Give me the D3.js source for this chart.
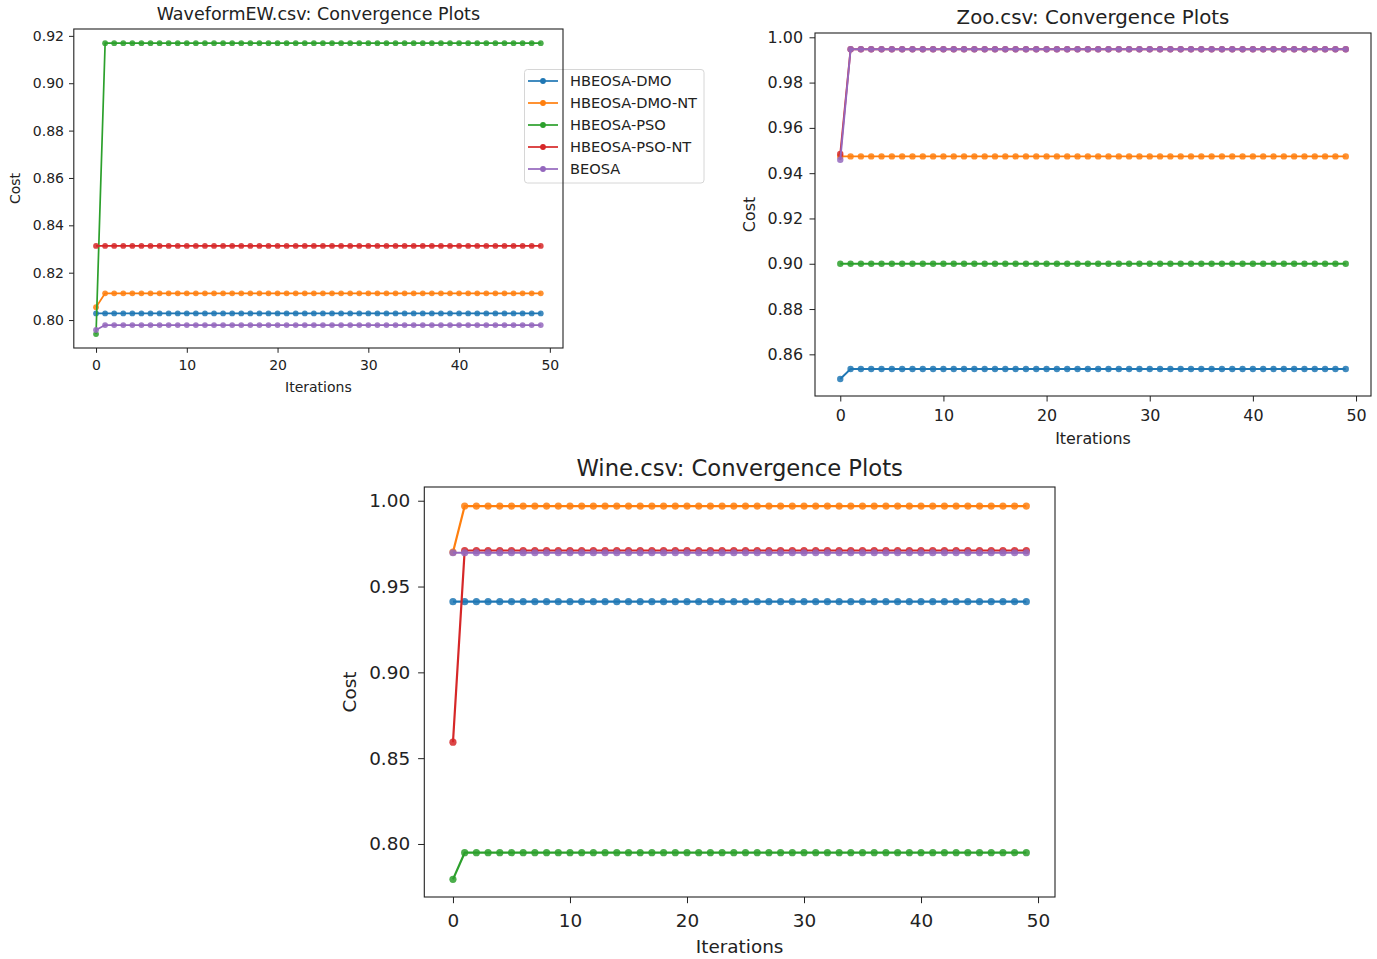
<!DOCTYPE html>
<html>
<head>
<meta charset="utf-8">
<script src="https://cdn.jsdelivr.net/npm/d3@7"></script>
<style>
  html, body { margin: 0; padding: 0; background: #fff; }
  svg { display: block; font-family: "DejaVu Sans", sans-serif; }
</style>
</head>
<body>
<svg id="fig" width="1377" height="959"></svg>
<script>
// ---- data -------------------------------------------------------------
const seriesNames = ["HBEOSA-DMO", "HBEOSA-DMO-NT", "HBEOSA-PSO", "HBEOSA-PSO-NT", "BEOSA"];
const seriesColors = ["#1f77b4", "#ff7f0e", "#2ca02c", "#d62728", "#9467bd"];
const xTicks = [0, 10, 20, 30, 40, 50];

// WaveformEW.csv
const waveDMO = [
  0.8028,0.8028,0.8028,0.8028,0.8028,0.8028,0.8028,0.8028,0.8028,0.8028,
  0.8028,0.8028,0.8028,0.8028,0.8028,0.8028,0.8028,0.8028,0.8028,0.8028,
  0.8028,0.8028,0.8028,0.8028,0.8028,0.8028,0.8028,0.8028,0.8028,0.8028,
  0.8028,0.8028,0.8028,0.8028,0.8028,0.8028,0.8028,0.8028,0.8028,0.8028,
  0.8028,0.8028,0.8028,0.8028,0.8028,0.8028,0.8028,0.8028,0.8028,0.8028];
const waveDMONT = [
  0.8054,0.8113,0.8113,0.8113,0.8113,0.8113,0.8113,0.8113,0.8113,0.8113,
  0.8113,0.8113,0.8113,0.8113,0.8113,0.8113,0.8113,0.8113,0.8113,0.8113,
  0.8113,0.8113,0.8113,0.8113,0.8113,0.8113,0.8113,0.8113,0.8113,0.8113,
  0.8113,0.8113,0.8113,0.8113,0.8113,0.8113,0.8113,0.8113,0.8113,0.8113,
  0.8113,0.8113,0.8113,0.8113,0.8113,0.8113,0.8113,0.8113,0.8113,0.8113];
const wavePSO = [
  0.7941,0.9169,0.9169,0.9169,0.9169,0.9169,0.9169,0.9169,0.9169,0.9169,
  0.9169,0.9169,0.9169,0.9169,0.9169,0.9169,0.9169,0.9169,0.9169,0.9169,
  0.9169,0.9169,0.9169,0.9169,0.9169,0.9169,0.9169,0.9169,0.9169,0.9169,
  0.9169,0.9169,0.9169,0.9169,0.9169,0.9169,0.9169,0.9169,0.9169,0.9169,
  0.9169,0.9169,0.9169,0.9169,0.9169,0.9169,0.9169,0.9169,0.9169,0.9169];
const wavePSONT = [
  0.8313,0.8313,0.8313,0.8313,0.8313,0.8313,0.8313,0.8313,0.8313,0.8313,
  0.8313,0.8313,0.8313,0.8313,0.8313,0.8313,0.8313,0.8313,0.8313,0.8313,
  0.8313,0.8313,0.8313,0.8313,0.8313,0.8313,0.8313,0.8313,0.8313,0.8313,
  0.8313,0.8313,0.8313,0.8313,0.8313,0.8313,0.8313,0.8313,0.8313,0.8313,
  0.8313,0.8313,0.8313,0.8313,0.8313,0.8313,0.8313,0.8313,0.8313,0.8313];
const waveBEOSA = [
  0.7958,0.7979,0.7979,0.7979,0.7979,0.7979,0.7979,0.7979,0.7979,0.7979,
  0.7979,0.7979,0.7979,0.7979,0.7979,0.7979,0.7979,0.7979,0.7979,0.7979,
  0.7979,0.7979,0.7979,0.7979,0.7979,0.7979,0.7979,0.7979,0.7979,0.7979,
  0.7979,0.7979,0.7979,0.7979,0.7979,0.7979,0.7979,0.7979,0.7979,0.7979,
  0.7979,0.7979,0.7979,0.7979,0.7979,0.7979,0.7979,0.7979,0.7979,0.7979];
const waveYTicks = [0.80, 0.82, 0.84, 0.86, 0.88, 0.90, 0.92];

// Zoo.csv
const zooDMO = [
  0.8491,0.8535,0.8535,0.8535,0.8535,0.8535,0.8535,0.8535,0.8535,0.8535,
  0.8535,0.8535,0.8535,0.8535,0.8535,0.8535,0.8535,0.8535,0.8535,0.8535,
  0.8535,0.8535,0.8535,0.8535,0.8535,0.8535,0.8535,0.8535,0.8535,0.8535,
  0.8535,0.8535,0.8535,0.8535,0.8535,0.8535,0.8535,0.8535,0.8535,0.8535,
  0.8535,0.8535,0.8535,0.8535,0.8535,0.8535,0.8535,0.8535,0.8535,0.8535];
const zooDMONT = [
  0.9474,0.9474,0.9474,0.9474,0.9474,0.9474,0.9474,0.9474,0.9474,0.9474,
  0.9474,0.9474,0.9474,0.9474,0.9474,0.9474,0.9474,0.9474,0.9474,0.9474,
  0.9474,0.9474,0.9474,0.9474,0.9474,0.9474,0.9474,0.9474,0.9474,0.9474,
  0.9474,0.9474,0.9474,0.9474,0.9474,0.9474,0.9474,0.9474,0.9474,0.9474,
  0.9474,0.9474,0.9474,0.9474,0.9474,0.9474,0.9474,0.9474,0.9474,0.9474];
const zooPSO = [
  0.9000,0.9000,0.9000,0.9000,0.9000,0.9000,0.9000,0.9000,0.9000,0.9000,
  0.9000,0.9000,0.9000,0.9000,0.9000,0.9000,0.9000,0.9000,0.9000,0.9000,
  0.9000,0.9000,0.9000,0.9000,0.9000,0.9000,0.9000,0.9000,0.9000,0.9000,
  0.9000,0.9000,0.9000,0.9000,0.9000,0.9000,0.9000,0.9000,0.9000,0.9000,
  0.9000,0.9000,0.9000,0.9000,0.9000,0.9000,0.9000,0.9000,0.9000,0.9000];
const zooPSONT = [
  0.9485,0.9947,0.9947,0.9947,0.9947,0.9947,0.9947,0.9947,0.9947,0.9947,
  0.9947,0.9947,0.9947,0.9947,0.9947,0.9947,0.9947,0.9947,0.9947,0.9947,
  0.9947,0.9947,0.9947,0.9947,0.9947,0.9947,0.9947,0.9947,0.9947,0.9947,
  0.9947,0.9947,0.9947,0.9947,0.9947,0.9947,0.9947,0.9947,0.9947,0.9947,
  0.9947,0.9947,0.9947,0.9947,0.9947,0.9947,0.9947,0.9947,0.9947,0.9947];
const zooBEOSA = [
  0.9459,0.9947,0.9947,0.9947,0.9947,0.9947,0.9947,0.9947,0.9947,0.9947,
  0.9947,0.9947,0.9947,0.9947,0.9947,0.9947,0.9947,0.9947,0.9947,0.9947,
  0.9947,0.9947,0.9947,0.9947,0.9947,0.9947,0.9947,0.9947,0.9947,0.9947,
  0.9947,0.9947,0.9947,0.9947,0.9947,0.9947,0.9947,0.9947,0.9947,0.9947,
  0.9947,0.9947,0.9947,0.9947,0.9947,0.9947,0.9947,0.9947,0.9947,0.9947];
const zooYTicks = [0.86, 0.88, 0.90, 0.92, 0.94, 0.96, 0.98, 1.00];

// Wine.csv
const wineDMO = [
  0.9412,0.9412,0.9412,0.9412,0.9412,0.9412,0.9412,0.9412,0.9412,0.9412,
  0.9412,0.9412,0.9412,0.9412,0.9412,0.9412,0.9412,0.9412,0.9412,0.9412,
  0.9412,0.9412,0.9412,0.9412,0.9412,0.9412,0.9412,0.9412,0.9412,0.9412,
  0.9412,0.9412,0.9412,0.9412,0.9412,0.9412,0.9412,0.9412,0.9412,0.9412,
  0.9412,0.9412,0.9412,0.9412,0.9412,0.9412,0.9412,0.9412,0.9412,0.9412];
const wineDMONT = [
  0.9700,0.9969,0.9969,0.9969,0.9969,0.9969,0.9969,0.9969,0.9969,0.9969,
  0.9969,0.9969,0.9969,0.9969,0.9969,0.9969,0.9969,0.9969,0.9969,0.9969,
  0.9969,0.9969,0.9969,0.9969,0.9969,0.9969,0.9969,0.9969,0.9969,0.9969,
  0.9969,0.9969,0.9969,0.9969,0.9969,0.9969,0.9969,0.9969,0.9969,0.9969,
  0.9969,0.9969,0.9969,0.9969,0.9969,0.9969,0.9969,0.9969,0.9969,0.9969];
const winePSO = [
  0.7794,0.7949,0.7949,0.7949,0.7949,0.7949,0.7949,0.7949,0.7949,0.7949,
  0.7949,0.7949,0.7949,0.7949,0.7949,0.7949,0.7949,0.7949,0.7949,0.7949,
  0.7949,0.7949,0.7949,0.7949,0.7949,0.7949,0.7949,0.7949,0.7949,0.7949,
  0.7949,0.7949,0.7949,0.7949,0.7949,0.7949,0.7949,0.7949,0.7949,0.7949,
  0.7949,0.7949,0.7949,0.7949,0.7949,0.7949,0.7949,0.7949,0.7949,0.7949];
const winePSONT = [
  0.8593,0.9710,0.9710,0.9710,0.9710,0.9710,0.9710,0.9710,0.9710,0.9710,
  0.9710,0.9710,0.9710,0.9710,0.9710,0.9710,0.9710,0.9710,0.9710,0.9710,
  0.9710,0.9710,0.9710,0.9710,0.9710,0.9710,0.9710,0.9710,0.9710,0.9710,
  0.9710,0.9710,0.9710,0.9710,0.9710,0.9710,0.9710,0.9710,0.9710,0.9710,
  0.9710,0.9710,0.9710,0.9710,0.9710,0.9710,0.9710,0.9710,0.9710,0.9710];
const wineBEOSA = [
  0.9697,0.9697,0.9697,0.9697,0.9697,0.9697,0.9697,0.9697,0.9697,0.9697,
  0.9697,0.9697,0.9697,0.9697,0.9697,0.9697,0.9697,0.9697,0.9697,0.9697,
  0.9697,0.9697,0.9697,0.9697,0.9697,0.9697,0.9697,0.9697,0.9697,0.9697,
  0.9697,0.9697,0.9697,0.9697,0.9697,0.9697,0.9697,0.9697,0.9697,0.9697,
  0.9697,0.9697,0.9697,0.9697,0.9697,0.9697,0.9697,0.9697,0.9697,0.9697];
const wineYTicks = [0.80, 0.85, 0.90, 0.95, 1.00];

// ---- panel layout -----------------------------------------------------
const panels = [
  { title: "WaveformEW.csv: Convergence Plots",
    series: [waveDMO, waveDMONT, wavePSO, wavePSONT, waveBEOSA],
    yTicks: waveYTicks, yDomain: [0.7882, 0.9229],
    box: { left: 73.8, right: 563, top: 29, bottom: 348 },
    font: 14, legendFont: 14.6, titleFont: 17.5, lineW: 1.7, r: 2.9,
    tick: 4.8, xPad: 7.5, yPad: 5,
    titleY: 20, xLabelY: 392, yLabelX: 20, legend: true },
  { title: "Zoo.csv: Convergence Plots",
    series: [zooDMO, zooDMONT, zooPSO, zooPSONT, zooBEOSA],
    yTicks: zooYTicks, yDomain: [0.8416, 1.0019],
    box: { left: 815, right: 1371, top: 33, bottom: 396 },
    font: 15.9, legendFont: 15.9, titleFont: 19.8, lineW: 1.9, r: 3.2,
    tick: 5.5, xPad: 8.5, yPad: 6.5,
    titleY: 24, xLabelY: 444, yLabelX: 755, legend: false },
  { title: "Wine.csv: Convergence Plots",
    series: [wineDMO, wineDMONT, winePSO, winePSONT, wineBEOSA],
    yTicks: wineYTicks, yDomain: [0.7691, 1.008],
    box: { left: 424.3, right: 1055, top: 487, bottom: 897 },
    font: 18.4, legendFont: 18.4, titleFont: 22.7, lineW: 2.2, r: 3.6,
    tick: 6.2, xPad: 10.5, yPad: 8,
    titleY: 476, xLabelY: 953, yLabelX: 356, legend: false }
];

const svg = d3.select("#fig");
const ink = "#222";

panels.forEach(p => {
  const b = p.box;
  const x = d3.scaleLinear().domain([-2.45, 51.45]).range([b.left, b.right]);
  const y = d3.scaleLinear().domain(p.yDomain).range([b.bottom, b.top]);
  const g = svg.append("g");

  // series lines and markers
  const line = d3.line().x((d, i) => x(i)).y(d => y(d));
  p.series.forEach((vals, k) => {
    const sg = g.append("g");
    sg.append("path").datum(vals)
      .attr("d", line).attr("fill", "none")
      .attr("stroke", seriesColors[k]).attr("stroke-width", p.lineW)
      .attr("stroke-linejoin", "round");
    sg.selectAll("circle").data(vals).join("circle")
      .attr("cx", (d, i) => x(i)).attr("cy", d => y(d))
      .attr("r", p.r).attr("fill", seriesColors[k]).attr("fill-opacity", 0.85);
  });

  // legend
  if (p.legend) {
    const lg = g.append("g");
    lg.append("rect").attr("x", 524.5).attr("y", 69.5).attr("width", 179.5).attr("height", 113.5)
      .attr("rx", 3).attr("fill", "#fff").attr("fill-opacity", 0.8)
      .attr("stroke", "#d6d6d6").attr("stroke-width", 1);
    seriesNames.forEach((name, k) => {
      const yy = 81 + k * 22;
      lg.append("line").attr("x1", 528).attr("x2", 558).attr("y1", yy).attr("y2", yy)
        .attr("stroke", seriesColors[k]).attr("stroke-width", p.lineW);
      lg.append("circle").attr("cx", 543).attr("cy", yy).attr("r", p.r)
        .attr("fill", seriesColors[k]);
      lg.append("text").attr("x", 570).attr("y", yy + 5)
        .attr("font-size", p.legendFont).attr("fill", ink).text(name);
    });
  }

  // axes
  const xAxis = d3.axisBottom(x).tickValues(xTicks).tickFormat(d3.format("d"))
    .tickSizeInner(p.tick).tickSizeOuter(0).tickPadding(p.xPad);
  const yAxis = d3.axisLeft(y).tickValues(p.yTicks).tickFormat(d3.format(".2f"))
    .tickSizeInner(p.tick).tickSizeOuter(0).tickPadding(p.yPad);
  const gx = g.append("g").attr("transform", `translate(0,${b.bottom})`).call(xAxis);
  const gy = g.append("g").attr("transform", `translate(${b.left},0)`).call(yAxis);
  [gx, gy].forEach(a => {
    a.select(".domain").remove();
    a.selectAll(".tick line").attr("stroke", ink).attr("stroke-width", 1);
    a.selectAll(".tick text").attr("fill", ink).attr("font-size", p.font)
      .attr("font-family", "DejaVu Sans");
  });

  // frame
  g.append("rect").attr("x", b.left).attr("y", b.top)
    .attr("width", b.right - b.left).attr("height", b.bottom - b.top)
    .attr("fill", "none").attr("stroke", ink).attr("stroke-width", 1.1);

  // title and axis labels
  g.append("text").attr("x", (b.left + b.right) / 2).attr("y", p.titleY)
    .attr("text-anchor", "middle").attr("font-size", p.titleFont).attr("fill", ink)
    .text(p.title);
  g.append("text").attr("x", (b.left + b.right) / 2).attr("y", p.xLabelY)
    .attr("text-anchor", "middle").attr("font-size", p.font).attr("fill", ink)
    .text("Iterations");
  g.append("text")
    .attr("transform", `translate(${p.yLabelX},${(b.top + b.bottom) / 2}) rotate(-90)`)
    .attr("text-anchor", "middle").attr("font-size", p.font).attr("fill", ink)
    .text("Cost");
});
</script>
</body>
</html>
